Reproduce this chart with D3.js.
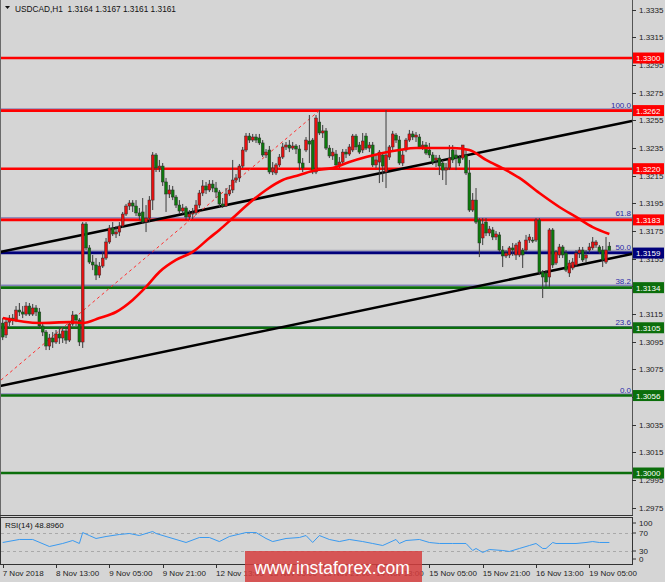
<!DOCTYPE html>
<html><head><meta charset="utf-8">
<script src="https://cdn.jsdelivr.net/npm/d3@7/dist/d3.min.js"></script>
<style>body{margin:0;background:#d5d5d5;}svg{display:block;}</style>
</head><body><svg id="c" width="665" height="582"></svg>
<script>
const symbolTitle = "USDCAD,H1  1.3164 1.3167 1.3161 1.3161";
const rsiTitle = "RSI(14) 48.8960";
const openP = [1.31084,1.30998,1.31091,1.31120,1.31106,1.31178,1.31164,1.31149,1.31207,1.31149,1.31193,1.31164,1.31063,1.31019,1.30918,1.30976,1.30947,1.31005,1.30976,1.31027,1.30961,1.31077,1.31142,1.31106,1.30947,1.31800,1.31627,1.31525,1.31504,1.31431,1.31496,1.31554,1.31670,1.31771,1.31728,1.31742,1.31786,1.31872,1.31930,1.31952,1.31930,1.31880,1.31887,1.31814,1.31843,1.31973,1.32299,1.32205,1.32219,1.32104,1.32017,1.32046,1.31995,1.31937,1.31894,1.31916,1.31851,1.31872,1.31880,1.31937,1.32024,1.32075,1.32046,1.32089,1.32060,1.32031,1.31945,1.31930,1.32017,1.32046,1.32118,1.32133,1.32219,1.32335,1.32436,1.32407,1.32429,1.32422,1.32386,1.32299,1.32335,1.32176,1.32169,1.32227,1.32284,1.32357,1.32371,1.32349,1.32364,1.32342,1.32241,1.32335,1.32400,1.32407,1.32176,1.32537,1.32458,1.32473,1.32349,1.32292,1.32306,1.32227,1.32248,1.32320,1.32306,1.32335,1.32436,1.32371,1.32335,1.32436,1.32349,1.32371,1.32227,1.32248,1.32299,1.32176,1.32284,1.32357,1.32443,1.32407,1.32241,1.32335,1.32407,1.32451,1.32429,1.32429,1.32357,1.32371,1.32335,1.32299,1.32263,1.32277,1.32241,1.32190,1.32205,1.32335,1.32299,1.32277,1.32277,1.32299,1.32169,1.31901,1.31973,1.31829,1.31699,1.31814,1.31735,1.31757,1.31706,1.31721,1.31612,1.31569,1.31576,1.31627,1.31576,1.31576,1.31612,1.31612,1.31684,1.31684,1.31684,1.31829,1.31453,1.31446,1.31417,1.31757,1.31518,1.31576,1.31634,1.31590,1.31446,1.31482,1.31504,1.31590,1.31612,1.31554,1.31612,1.31627,1.31648,1.31634,1.31612,1.31525,1.3164];
const highP = [1.31120,1.31120,1.31142,1.31149,1.31207,1.31229,1.31207,1.31236,1.31229,1.31222,1.31214,1.31193,1.31091,1.31034,1.31005,1.31019,1.31034,1.31055,1.31055,1.31048,1.31091,1.31171,1.31149,1.31120,1.31814,1.31814,1.31648,1.31576,1.31554,1.31525,1.31598,1.31699,1.31793,1.31814,1.31786,1.31814,1.31887,1.31945,1.31973,1.31973,1.31973,1.31916,1.31988,1.31937,1.32002,1.32320,1.32313,1.32263,1.32241,1.32133,1.32082,1.32075,1.32010,1.31973,1.31945,1.31930,1.31901,1.31916,1.31973,1.32046,1.32118,1.32104,1.32118,1.32118,1.32104,1.32046,1.31988,1.32060,1.32082,1.32263,1.32161,1.32234,1.32357,1.32458,1.32458,1.32451,1.32451,1.32451,1.32407,1.32342,1.32364,1.32248,1.32241,1.32306,1.32386,1.32393,1.32407,1.32393,1.32378,1.32371,1.32277,1.32429,1.32588,1.32422,1.32588,1.32624,1.32516,1.32494,1.32371,1.32349,1.32335,1.32284,1.32342,1.32342,1.32378,1.32451,1.32451,1.32393,1.32458,1.32458,1.32393,1.32393,1.32299,1.32335,1.32320,1.32624,1.32371,1.32473,1.32458,1.32436,1.32335,1.32422,1.32480,1.32473,1.32465,1.32451,1.32400,1.32393,1.32386,1.32320,1.32299,1.32299,1.32263,1.32241,1.32371,1.32371,1.32335,1.32299,1.32371,1.32335,1.32263,1.32024,1.32060,1.31843,1.31843,1.31843,1.31786,1.31778,1.31749,1.31742,1.31641,1.31612,1.31641,1.31663,1.31663,1.31684,1.31627,1.31721,1.31728,1.31706,1.31843,1.31843,1.31467,1.31467,1.31771,1.31771,1.31612,1.31656,1.31648,1.31612,1.31540,1.31554,1.31612,1.31634,1.31634,1.31612,1.31663,1.31706,1.31684,1.31648,1.31641,1.31706,1.3167];
const lowP = [1.30961,1.30976,1.31063,1.31070,1.31091,1.31135,1.31120,1.31135,1.31135,1.31135,1.31135,1.31048,1.30990,1.30889,1.30889,1.30904,1.30933,1.30933,1.30940,1.30933,1.30947,1.31063,1.31063,1.30918,1.30904,1.31612,1.31511,1.31467,1.31395,1.31410,1.31482,1.31540,1.31656,1.31713,1.31699,1.31713,1.31771,1.31858,1.31901,1.31887,1.31858,1.31829,1.31800,1.31742,1.31814,1.31901,1.32176,1.32176,1.32075,1.31887,1.31988,1.31973,1.31916,1.31872,1.31872,1.31829,1.31829,1.31836,1.31865,1.31916,1.32002,1.32017,1.32031,1.32031,1.31988,1.31923,1.31916,1.31923,1.32002,1.32024,1.32096,1.32104,1.32205,1.32320,1.32386,1.32393,1.32386,1.32371,1.32284,1.32277,1.32161,1.32154,1.32154,1.32212,1.32270,1.32335,1.32320,1.32335,1.32306,1.32190,1.32176,1.32320,1.32241,1.32161,1.32161,1.32443,1.32422,1.32335,1.32277,1.32263,1.32205,1.32205,1.32227,1.32277,1.32292,1.32320,1.32335,1.32306,1.32313,1.32335,1.32320,1.32212,1.32205,1.32096,1.32104,1.32060,1.32263,1.32335,1.32386,1.32227,1.32219,1.32320,1.32393,1.32407,1.32393,1.32342,1.32335,1.32299,1.32277,1.32227,1.32212,1.32154,1.32118,1.32082,1.32190,1.32241,1.32190,1.32219,1.32263,1.32154,1.31887,1.31887,1.31800,1.31561,1.31648,1.31713,1.31713,1.31684,1.31684,1.31598,1.31489,1.31554,1.31554,1.31569,1.31540,1.31561,1.31482,1.31598,1.31663,1.31663,1.31670,1.31431,1.31265,1.31345,1.31345,1.31482,1.31504,1.31554,1.31554,1.31453,1.31417,1.31467,1.31489,1.31554,1.31525,1.31525,1.31590,1.31612,1.31627,1.31583,1.31489,1.31511,1.3161];
const closeP = [1.30983,1.31091,1.31120,1.31106,1.31178,1.31164,1.31149,1.31207,1.31149,1.31193,1.31164,1.31063,1.31019,1.30918,1.30976,1.30947,1.31005,1.30976,1.31027,1.30961,1.31077,1.31142,1.31106,1.30947,1.31800,1.31627,1.31525,1.31504,1.31431,1.31496,1.31554,1.31670,1.31771,1.31728,1.31742,1.31786,1.31872,1.31930,1.31952,1.31930,1.31880,1.31858,1.31814,1.31843,1.31973,1.32299,1.32205,1.32219,1.32104,1.32017,1.32046,1.31995,1.31937,1.31894,1.31916,1.31851,1.31872,1.31880,1.31937,1.32024,1.32075,1.32046,1.32089,1.32060,1.32031,1.31945,1.31930,1.32017,1.32046,1.32118,1.32133,1.32219,1.32335,1.32436,1.32407,1.32429,1.32407,1.32386,1.32299,1.32320,1.32176,1.32205,1.32227,1.32284,1.32357,1.32371,1.32349,1.32364,1.32342,1.32241,1.32205,1.32407,1.32378,1.32176,1.32566,1.32458,1.32473,1.32349,1.32292,1.32320,1.32227,1.32248,1.32320,1.32306,1.32357,1.32436,1.32357,1.32320,1.32400,1.32349,1.32371,1.32227,1.32263,1.32320,1.32219,1.32299,1.32357,1.32451,1.32407,1.32241,1.32299,1.32407,1.32451,1.32429,1.32443,1.32357,1.32371,1.32313,1.32299,1.32248,1.32277,1.32219,1.32190,1.32205,1.32277,1.32263,1.32277,1.32241,1.32371,1.32169,1.31901,1.31973,1.31814,1.31663,1.31800,1.31735,1.31764,1.31706,1.31728,1.31612,1.31569,1.31590,1.31627,1.31612,1.31648,1.31670,1.31576,1.31684,1.31706,1.31677,1.31829,1.31453,1.31417,1.31381,1.31757,1.31504,1.31598,1.31634,1.31576,1.31467,1.31518,1.31525,1.31590,1.31612,1.31540,1.31576,1.31634,1.31670,1.31670,1.31598,1.31540,1.31612,1.3161];
const maBars = [0,11,20,24,29,34,39,43,47,52,57,62,65,69,74,79,84,89,94,99,104,109,114,119,124,130,135,140,145,151,155,161,167,172,177,182];
const maValues = [1.31120,1.31084,1.31091,1.31084,1.31120,1.31164,1.31251,1.31345,1.31453,1.31540,1.31598,1.31699,1.31757,1.31843,1.31952,1.32046,1.32118,1.32154,1.32190,1.32205,1.32248,1.32284,1.32313,1.32335,1.32349,1.32349,1.32349,1.32335,1.32263,1.32190,1.32133,1.32024,1.31923,1.31851,1.31778,1.31728];
const rsiBars = [0,5,9,14,18,21,23,24,26,28,31,35,38,41,43,45,46,49,52,55,59,62,65,68,73,76,79,81,85,89,91,93,95,98,101,104,108,111,114,118,119,121,125,128,131,135,139,141,142,144,146,150,152,155,158,160,162,163,165,166,169,172,175,177,179,181,182];
const rsiValues = [48.9,55.6,55.6,40,46.7,53.3,46.7,71,64.4,57.8,62.2,66.7,68.9,64.4,68.9,73.3,68.9,62.2,55.6,48.9,60,60,51,62.2,71,71,57.8,51,57.8,60,64.4,48.9,64.4,55.6,51,55.6,51,46.7,42.2,55.6,46.7,53.3,55.6,48.9,46.7,46.7,46.7,31.1,35.6,26.7,33.3,31.1,28.9,35.6,42.2,46.7,35.6,35.6,48.9,46.7,46.7,46.7,48.9,51,48.9,48.9,48.896];
const levelValues = [1.3300,1.3262,1.3220,1.3183,1.3159,1.3134,1.3105,1.3056,1.3000];
const levelLabels = ["1.3300","1.3262","1.3220","1.3183","1.3159","1.3134","1.3105","1.3056","1.3000"];
const fibPercents = [0,23.6,38.2,50,61.8,100];
const fibLabels = ["0.0","23.6","38.2","50.0","61.8","100.0"];
const fibLow = 1.3056, fibHigh = 1.3262, fibLowBar = -6, fibHighBar = 95;
const bidPrice = 1.3161;
const priceTicks = [1.2975,1.2995,1.3015,1.3035,1.3055,1.3075,1.3095,1.3115,1.3135,1.3155,1.3175,1.3195,1.3215,1.3235,1.3255,1.3275,1.3295,1.3315,1.3335];
const priceTickLabels = ["1.2975","1.2995","1.3015","1.3035","","1.3075","1.3095","1.3115","","1.3155","1.3175","1.3195","1.3215","1.3235","1.3255","1.3275","1.3295","1.3315","1.3335"];
const trendUpper = [[0,1.31602],[182,1.32511]];
const trendLower = [[0,1.30633],[182,1.31549]];
const timeTickBars = [0,16,32,48,64,80,96,112,128,144,160,176];
const timeLabels = ["7 Nov 2018","8 Nov 13:00","9 Nov 05:00","9 Nov 21:00","12 Nov 13:00","13 Nov 05:00","13 Nov 21:00","14 Nov 13:00","15 Nov 05:00","15 Nov 21:00","16 Nov 13:00","19 Nov 05:00"];
const rsiLevels = [70,30];
const rsiAxis = [100,70,30,0];

const FONT = "'Liberation Sans', Arial, sans-serif";
const plotR = 632, mainB = 515, rsiT = 517, rsiB = 564;
const svg = d3.select("#c");
svg.append("rect").attr("width",665).attr("height",582).attr("fill","#d5d5d5");

const x = d3.scaleLinear().domain([0,182]).range([2.7, 2.7+182*3.3333]);
const y = d3.scaleLinear().domain([1.2975,1.3335]).range([507.6,9.6]);
const yr = d3.scaleLinear().domain([0,100]).range([564.5,519.5]);

const defs = svg.append("defs");
defs.append("clipPath").attr("id","mc").append("rect").attr("x",0).attr("y",0).attr("width",plotR).attr("height",mainB);
defs.append("clipPath").attr("id","rc").append("rect").attr("x",0).attr("y",rsiT).attr("width",plotR).attr("height",rsiB-rsiT);
const main = svg.append("g").attr("clip-path","url(#mc)");

function lvlColor(v){ return v >= 1.3180 ? "#ff0000" : (v > 1.3150 ? "#00007a" : "#0b6e0b"); }

const fibPrices = fibPercents.map(p => fibLow + (fibHigh-fibLow)*p/100);
main.selectAll(".fib").data(fibPrices).enter().append("line")
  .attr("x1",0).attr("x2",plotR).attr("y1",d=>y(d)-1.5).attr("y2",d=>y(d)-1.5)
  .attr("stroke","#3a3aa0").attr("stroke-width",1).attr("opacity",0.8);
main.append("line").attr("x1",0).attr("x2",plotR).attr("y1",y(bidPrice)).attr("y2",y(bidPrice))
  .attr("stroke","#9a9aae").attr("stroke-width",1);
main.selectAll(".lvl").data(levelValues).enter().append("line")
  .attr("x1",0).attr("x2",plotR).attr("y1",d=>y(d)).attr("y2",d=>y(d))
  .attr("stroke",d=>lvlColor(d)).attr("stroke-width",2.6);

function extLine(pts){
  const [a,b] = pts; const s = (b[1]-a[1])/(b[0]-a[0]);
  const i0 = x.invert(0), i1 = x.invert(plotR);
  return [[i0, a[1]+s*(i0-a[0])],[i1, a[1]+s*(i1-a[0])]];
}
const lineGen = d3.line().x(d=>x(d[0])).y(d=>y(d[1]));
[trendUpper,trendLower].forEach(t=>{
  main.append("path").attr("d",lineGen(extLine(t))).attr("fill","none")
    .attr("stroke","#000").attr("stroke-width",2.6);
});
main.append("path").attr("d",lineGen([[fibLowBar,fibLow],[fibHighBar,fibHigh]]))
  .attr("fill","none").attr("stroke","#ff3030").attr("stroke-width",1).attr("stroke-dasharray","3,3");

const bars = d3.range(openP.length);
const cg = main.append("g");
cg.selectAll(".wick").data(bars).enter().append("line")
  .attr("x1",i=>x(i)).attr("x2",i=>x(i)).attr("y1",i=>y(highP[i])).attr("y2",i=>y(lowP[i]))
  .attr("stroke","#3c3c3c").attr("stroke-width",1);
cg.selectAll(".body").data(bars).enter().append("rect")
  .attr("x",i=>x(i)-1.4).attr("width",2.8)
  .attr("y",i=>y(Math.max(openP[i],closeP[i])))
  .attr("height",i=>Math.max(1,Math.abs(y(openP[i])-y(closeP[i]))))
  .attr("fill",i=>closeP[i]>=openP[i] ? "#e81010" : "#0b7a0b")
  .attr("stroke","#2e2e2e").attr("stroke-width",0.5);

main.append("path").datum(maBars.map((b,k)=>[b,maValues[k]]))
  .attr("d",d3.line().x(d=>x(d[0])).y(d=>y(d[1])).curve(d3.curveMonotoneX))
  .attr("fill","none").attr("stroke","#ff0000").attr("stroke-width",2.6);

svg.selectAll(".fibt").data(fibPrices).enter().append("text")
  .attr("x",631).attr("y",d=>y(d)-3).attr("text-anchor","end")
  .attr("font-family",FONT).attr("font-size","8px").attr("fill","#2a2aa8")
  .text((d,k)=>fibLabels[k]);

svg.append("line").attr("x1",0.5).attr("x2",0.5).attr("y1",0).attr("y2",rsiB).attr("stroke","#6a6a6a");
svg.append("line").attr("x1",plotR+0.5).attr("x2",plotR+0.5).attr("y1",0).attr("y2",mainB).attr("stroke","#555");
svg.append("line").attr("x1",0).attr("x2",plotR+1).attr("y1",mainB+0.5).attr("y2",mainB+0.5).attr("stroke","#333");
svg.append("rect").attr("x",0.5).attr("y",rsiT+0.5).attr("width",plotR).attr("height",rsiB-rsiT).attr("fill","none").attr("stroke","#333");

const pa = svg.append("g");
pa.selectAll(".pt").data(priceTicks).enter().append("line")
  .attr("x1",plotR).attr("x2",plotR+4).attr("y1",d=>Math.round(y(d))+0.5).attr("y2",d=>Math.round(y(d))+0.5).attr("stroke","#333");
pa.selectAll(".pl").data(priceTicks.filter((d,k)=>priceTickLabels[k]!=="")).enter().append("text")
  .attr("x",639).attr("y",d=>y(d)+3).attr("font-family",FONT).attr("font-size","8px").attr("fill","#222")
  .text(d=>priceTickLabels[priceTicks.indexOf(d)]);
const lb = svg.selectAll(".lb").data(levelValues).enter().append("g");
lb.append("rect").attr("x",plotR+1).attr("y",d=>y(d)-5.5).attr("width",31).attr("height",11).attr("fill",d=>lvlColor(d));
lb.append("text").attr("x",plotR+4).attr("y",d=>y(d)+3).attr("font-family",FONT).attr("font-size","8px").attr("fill","#fff")
  .text((d,k)=>levelLabels[k]);

svg.append("path").attr("d","M5,6 L10,6 L7.5,9 Z").attr("fill","#111");
svg.append("text").attr("x",15).attr("y",12).attr("font-family",FONT).attr("font-size","8.3px").attr("fill","#111")
  .attr("xml:space","preserve").style("white-space","pre").text(symbolTitle);

const rg = svg.append("g").attr("clip-path","url(#rc)");
rg.selectAll(".rl").data(rsiLevels).enter().append("line")
  .attr("x1",1).attr("x2",plotR).attr("y1",d=>Math.round(yr(d))+0.5).attr("y2",d=>Math.round(yr(d))+0.5)
  .attr("stroke","#a9a9a9").attr("stroke-dasharray","3,3");
rg.append("path").datum(rsiBars.map((b,k)=>[b,rsiValues[k]]))
  .attr("d",d3.line().x(d=>x(d[0])).y(d=>yr(d[1])))
  .attr("fill","none").attr("stroke","#3a9af0").attr("stroke-width",1);
svg.append("text").attr("x",5).attr("y",528).attr("font-family",FONT).attr("font-size","8px").attr("fill","#111").text(rsiTitle);
svg.selectAll(".ra").data(rsiAxis).enter().append("text")
  .attr("x",639).attr("y",d=>Math.min(562,Math.max(526,yr(d)+3)))
  .attr("font-family",FONT).attr("font-size","8px").attr("fill","#222").text(d=>d);
svg.selectAll(".rat").data(rsiAxis).enter().append("line")
  .attr("x1",plotR).attr("x2",plotR+4).attr("y1",d=>Math.min(559,Math.max(523,yr(d)))).attr("y2",d=>Math.min(559,Math.max(523,yr(d))))
  .attr("stroke","#333");

svg.selectAll(".tt").data(timeTickBars).enter().append("line")
  .attr("x1",i=>Math.round(x(i))+0.5).attr("x2",i=>Math.round(x(i))+0.5).attr("y1",rsiB).attr("y2",rsiB+4).attr("stroke","#333");
svg.selectAll(".tl").data(timeTickBars).enter().append("text")
  .attr("x",i=>x(i)).attr("y",576).attr("font-family",FONT).attr("font-size","8px").attr("fill","#222")
  .text((i,k)=>timeLabels[k]);

svg.append("rect").attr("x",245).attr("y",551).attr("width",177).attr("height",31).attr("fill","rgba(214,62,62,0.85)");
svg.append("text").attr("x",332).attr("y",574).attr("text-anchor","middle").attr("font-family",FONT)
  .attr("font-size","17.5px").attr("fill","#fff").text("www.instaforex.com");
</script></body></html>
